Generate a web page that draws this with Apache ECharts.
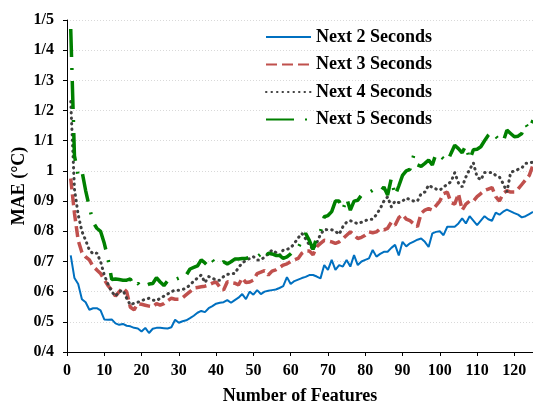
<!DOCTYPE html>
<html>
<head>
<meta charset="UTF-8">
<script src="https://cdn.jsdelivr.net/npm/echarts@6/dist/echarts.min.js"></script>
<style>
  html, body { margin: 0; padding: 0; background: #fff; }
  #main { width: 533px; height: 403px; }
</style>
</head>
<body>
<div id="main"></div>
<script>
// feature counts 1..125
var features = [];
for (var i = 1; i <= 125; i++) features.push(i);

var seriesNames = ['Next 2 Seconds', 'Next 3 Seconds', 'Next 4 Seconds', 'Next 5 Seconds'];

var next2 = [
  0.72, 0.645, 0.625, 0.575, 0.565, 0.54, 0.545, 0.545, 0.538, 0.508,
  0.507, 0.508, 0.495, 0.49, 0.493, 0.487, 0.485, 0.48, 0.478, 0.468,
  0.48, 0.463, 0.477, 0.48, 0.48, 0.479, 0.478, 0.482, 0.507, 0.497,
  0.502, 0.505, 0.512, 0.52, 0.53, 0.536, 0.532, 0.545, 0.552, 0.56,
  0.563, 0.565, 0.572, 0.563, 0.572, 0.58, 0.592, 0.575, 0.6, 0.59,
  0.605, 0.592, 0.6, 0.603, 0.605, 0.607, 0.612, 0.618, 0.648, 0.625,
  0.635, 0.64, 0.645, 0.649, 0.655, 0.655, 0.65, 0.644, 0.688, 0.672,
  0.705, 0.672, 0.688, 0.683, 0.705, 0.683, 0.721, 0.688, 0.7, 0.705,
  0.71, 0.738, 0.716, 0.725, 0.732, 0.732, 0.745, 0.755, 0.72, 0.765,
  0.75, 0.76, 0.766, 0.772, 0.776, 0.765, 0.748, 0.793, 0.798, 0.8,
  0.787, 0.815, 0.815, 0.815, 0.826, 0.843, 0.826, 0.85, 0.835, 0.82,
  0.835, 0.85, 0.84, 0.835, 0.862, 0.855, 0.865, 0.872, 0.866, 0.86,
  0.855, 0.846, 0.85, 0.857, 0.864
];

var next3 = [
  0.975, 0.86, 0.77, 0.73, 0.715, 0.705, 0.683, 0.672, 0.66, 0.64,
  0.62, 0.605, 0.585, 0.6, 0.612, 0.6, 0.548, 0.54, 0.56, 0.558,
  0.555, 0.552, 0.55, 0.56, 0.555, 0.56, 0.57, 0.578, 0.575, 0.575,
  0.58, 0.59, 0.6, 0.612, 0.614, 0.616, 0.618, 0.622, 0.628, 0.632,
  0.615, 0.605, 0.633, 0.63, 0.628, 0.622, 0.645, 0.63, 0.632, 0.638,
  0.66, 0.665, 0.67, 0.655, 0.668, 0.672, 0.68, 0.688, 0.692, 0.7,
  0.705, 0.71, 0.727, 0.735, 0.735, 0.722, 0.749, 0.76, 0.77, 0.768,
  0.765, 0.76, 0.765, 0.775, 0.787, 0.798, 0.787, 0.776, 0.78, 0.787,
  0.798, 0.795, 0.798, 0.808, 0.805, 0.81, 0.83, 0.82, 0.845, 0.855,
  0.84, 0.835, 0.825, 0.815, 0.86, 0.87, 0.875, 0.87, 0.885, 0.9,
  0.925, 0.93, 0.895, 0.89, 0.925, 0.87, 0.89, 0.9, 0.9, 0.915,
  0.925, 0.935, 0.94, 0.945, 0.915, 0.9, 0.925, 0.935, 0.93, 0.93,
  0.94, 0.955, 0.97, 0.985, 1.02
];

var next4 = [
  1.23, 0.94, 0.855, 0.8, 0.77, 0.738, 0.725, 0.728, 0.7, 0.655,
  0.625, 0.6, 0.585, 0.6, 0.605, 0.578, 0.556, 0.562, 0.565, 0.57,
  0.575, 0.578, 0.572, 0.57, 0.578, 0.585, 0.592, 0.6, 0.605, 0.605,
  0.607, 0.612, 0.622, 0.635, 0.645, 0.655, 0.63, 0.65, 0.645, 0.638,
  0.638, 0.65, 0.657, 0.66, 0.66, 0.68, 0.695, 0.703, 0.71, 0.716,
  0.705, 0.705, 0.715, 0.725, 0.738, 0.73, 0.72, 0.738, 0.74, 0.745,
  0.76, 0.778, 0.793, 0.775, 0.755, 0.74, 0.762, 0.79, 0.806, 0.805,
  0.805, 0.8, 0.79, 0.815, 0.83, 0.835, 0.83, 0.825, 0.83, 0.835,
  0.84, 0.84, 0.855, 0.875, 0.9, 0.914, 0.881, 0.9, 0.895, 0.9,
  0.91, 0.905, 0.9, 0.9, 0.925, 0.93, 0.953, 0.945, 0.94, 0.936,
  0.947, 0.955, 0.964, 0.994, 0.96, 0.947, 0.98, 1.005, 1.027, 0.98,
  0.97, 0.995, 0.995, 0.995, 0.985, 0.98, 0.958, 0.93, 0.995, 1.0,
  1.005, 1.01, 1.025, 1.025, 1.03
];

var next5 = [
  1.47, 1.05, 0.985, 1.0, 0.935, 0.88, 0.83, 0.81, 0.8, 0.76,
  0.71, 0.64, 0.642, 0.64, 0.638, 0.638, 0.642, 0.617, 0.628, 0.613,
  0.62, 0.625, 0.627, 0.646, 0.632, 0.62, 0.636, 0.632, 0.64, 0.645,
  0.64, 0.655, 0.675, 0.68, 0.685, 0.705, 0.695, 0.683, 0.705, 0.69,
  0.69, 0.699, 0.692, 0.699, 0.708, 0.708, 0.71, 0.71, 0.714, 0.716,
  0.714, 0.725, 0.71, 0.727, 0.725, 0.72, 0.72, 0.71, 0.715, 0.725,
  0.738, 0.745, 0.77, 0.793, 0.77, 0.74, 0.78, 0.8, 0.848, 0.852,
  0.865, 0.9, 0.9, 0.87, 0.91, 0.87, 0.9, 0.903, 0.92, 0.925,
  0.928, 0.936, 0.933, 0.93, 0.947, 0.92, 0.975, 0.917, 0.95, 0.985,
  1.0, 1.005, 1.052, 1.02, 1.015, 1.025, 1.036, 1.02, 1.058, 1.052,
  1.04, 1.03, 1.058, 1.085, 1.074, 1.06, 1.085, 1.036, 1.07, 1.072,
  1.08, 1.1, 1.118, 1.13, 1.115, 1.1, 1.096, 1.135, 1.124, 1.113,
  1.115, 1.124, 1.157, 1.136, 1.168
];

function pairs(vals) {
  return features.map(function (f, k) { return [f, vals[k]]; });
}

var font = 'Liberation Serif';
var myChart = echarts.init(document.getElementById('main'));

myChart.setOption({
  animation: false,
  backgroundColor: '#fff',
  grid: { left: 67, right: 0, top: 20, bottom: 51, outerBoundsMode: 'none' },
  legend: {
    orient: 'vertical',
    left: 260,
    top: 23,
    itemWidth: 45,
    itemHeight: 14,
    itemGap: 9.5,
    data: seriesNames,
    itemStyle: { opacity: 0 },
    textStyle: { fontFamily: font, fontWeight: 'bold', fontSize: 18, color: '#000', lineHeight: 18 }
  },
  xAxis: {
    type: 'value',
    min: 0,
    max: 125,
    interval: 10,
    name: 'Number of Features',
    nameLocation: 'middle',
    nameGap: 35,
    nameMoveOverlap: false,
    nameTextStyle: { fontFamily: font, fontWeight: 'bold', fontSize: 18, color: '#000' },
    axisLine: { lineStyle: { color: '#000', width: 1 } },
    axisTick: { show: true, length: 4, lineStyle: { color: '#000' } },
    axisLabel: { fontFamily: font, fontWeight: 'bold', fontSize: 16, color: '#000', margin: 11, showMaxLabel: false },
    splitLine: { show: false }
  },
  yAxis: {
    type: 'value',
    min: 0.4,
    max: 1.5,
    interval: 0.1,
    name: 'MAE (°C)',
    nameLocation: 'middle',
    nameRotate: 90,
    nameGap: 39,
    nameMoveOverlap: false,
    nameTextStyle: { fontFamily: font, fontWeight: 'bold', fontSize: 18, color: '#000' },
    axisLine: { show: true, lineStyle: { color: '#000', width: 1 } },
    axisTick: { show: true, length: 4, lineStyle: { color: '#000' } },
    axisLabel: {
      fontFamily: font, fontWeight: 'bold', fontSize: 16, color: '#000', margin: 13,
      formatter: function (v) {
        return String(Math.round(v * 10) / 10).replace('.', '/');
      }
    },
    splitLine: { show: true, lineStyle: { color: '#d9d9d9', type: [1, 2], width: 1 } }
  },
  series: [
    {
      name: seriesNames[0], type: 'line', data: pairs(next2), showSymbol: false, symbol: 'none',
      lineStyle: { color: '#0070c0', width: 2 }, itemStyle: { color: '#0070c0' }
    },
    {
      name: seriesNames[1], type: 'line', data: pairs(next3), showSymbol: false, symbol: 'none',
      lineStyle: { color: '#c0504d', width: 3.5, type: [11, 5] }, itemStyle: { color: '#c0504d' }
    },
    {
      name: seriesNames[2], type: 'line', data: pairs(next4), showSymbol: false, symbol: 'none',
      lineStyle: { color: '#404040', width: 3, type: [0.5, 5], cap: 'round' }, itemStyle: { color: '#404040' }
    },
    {
      name: seriesNames[3], type: 'line', data: pairs(next5), showSymbol: false, symbol: 'none',
      lineStyle: { color: '#008000', width: 3.5, type: [28, 11, 2, 11] }, itemStyle: { color: '#008000' }
    }
  ]
});
</script>
</body>
</html>
